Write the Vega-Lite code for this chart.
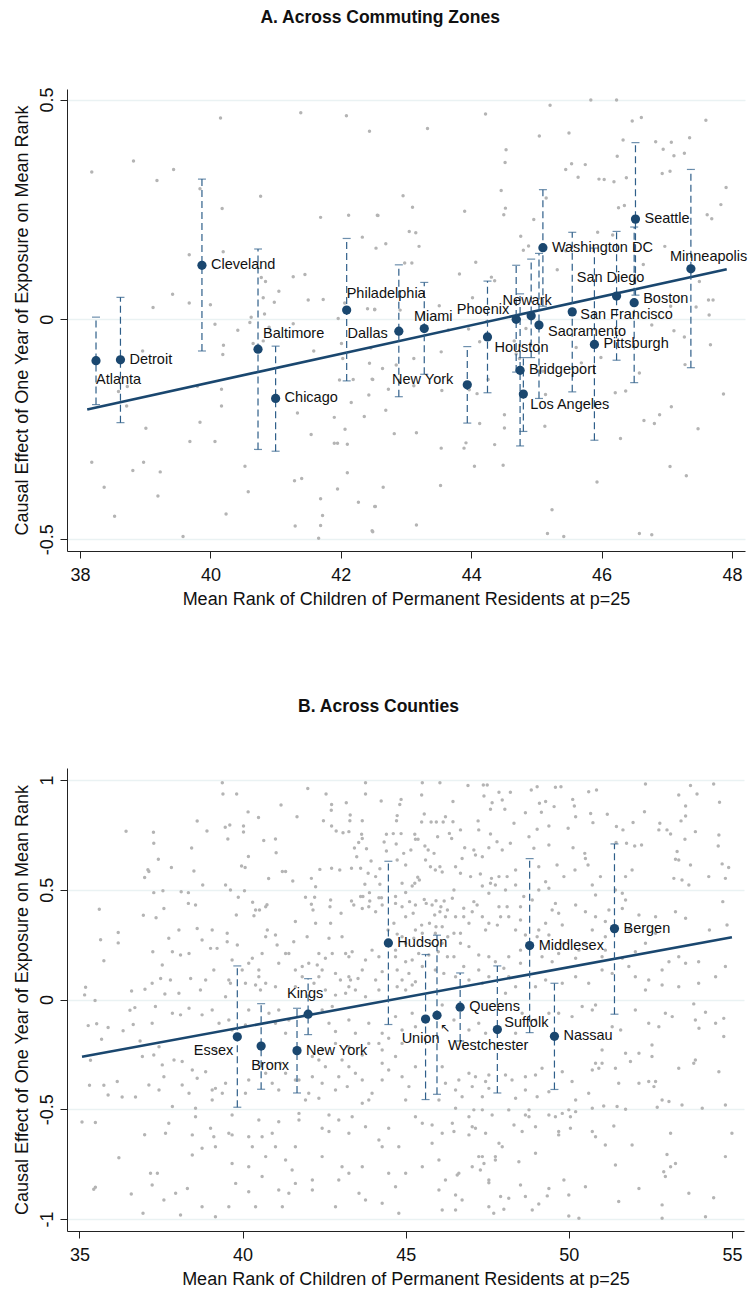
{
"$schema":"https://vega.github.io/schema/vega-lite/v6.json",
"padding":{"left":12,"top":8,"right":0,"bottom":0},
"spacing":89,
"config":{"view":{"stroke":null},"font":"Liberation Sans",
"axis":{"domainColor":"#222","tickColor":"#222","labelColor":"#111","titleColor":"#111","labelFontSize":18,"titleFontSize":18,"titleFontWeight":"normal","tickSize":7,"gridColor":"#eaf2f3","gridWidth":1.5,"labelFont":"Liberation Sans","titleFont":"Liberation Sans"},
"title":{"fontSize":17.5,"fontWeight":"bold","color":"#111","frame":"bounds","anchor":"middle","font":"Liberation Sans"}},
"datasets":{
"cz":[
{"name":"Atlanta","x":38.245,"y":-0.094,"lo":-0.194,"hi":0.005},
{"name":"Detroit","x":38.62,"y":-0.092,"lo":-0.235,"hi":0.05},
{"name":"Cleveland","x":39.87,"y":0.123,"lo":-0.072,"hi":0.319},
{"name":"Baltimore","x":40.73,"y":-0.068,"lo":-0.296,"hi":0.16},
{"name":"Chicago","x":41.0,"y":-0.18,"lo":-0.3,"hi":-0.061},
{"name":"Philadelphia","x":42.09,"y":0.021,"lo":-0.14,"hi":0.184},
{"name":"Dallas","x":42.89,"y":-0.027,"lo":-0.176,"hi":0.124},
{"name":"Miami","x":43.28,"y":-0.021,"lo":-0.125,"hi":0.084},
{"name":"New York","x":43.94,"y":-0.149,"lo":-0.236,"hi":-0.062},
{"name":"Houston","x":44.25,"y":-0.04,"lo":-0.167,"hi":0.087},
{"name":"Phoenix","x":44.69,"y":0.0,"lo":-0.12,"hi":0.123},
{"name":"Bridgeport","x":44.75,"y":-0.116,"lo":-0.288,"hi":0.058},
{"name":"Los Angeles","x":44.8,"y":-0.17,"lo":-0.255,"hi":-0.087},
{"name":"Newark","x":44.92,"y":0.008,"lo":-0.087,"hi":0.137},
{"name":"Sacramento","x":45.04,"y":-0.013,"lo":-0.18,"hi":0.15},
{"name":"Washington DC","x":45.1,"y":0.163,"lo":0.03,"hi":0.295},
{"name":"San Francisco","x":45.55,"y":0.017,"lo":-0.165,"hi":0.198},
{"name":"Pittsburgh","x":45.89,"y":-0.057,"lo":-0.275,"hi":0.162},
{"name":"San Diego","x":46.23,"y":0.053,"lo":-0.093,"hi":0.2},
{"name":"Boston","x":46.5,"y":0.038,"lo":-0.144,"hi":0.21},
{"name":"Seattle","x":46.52,"y":0.228,"lo":0.055,"hi":0.402},
{"name":"Minneapolis","x":47.37,"y":0.115,"lo":-0.11,"hi":0.341}],
"cz_line":[{"x":38.11,"y":-0.205},{"x":47.92,"y":0.114}],
"co":[
{"name":"Essex","x":39.84,"y":-0.17,"lo":-0.491,"hi":0.153},
{"name":"Bronx","x":40.57,"y":-0.212,"lo":-0.409,"hi":-0.019},
{"name":"New York","x":41.67,"y":-0.233,"lo":-0.426,"hi":-0.04},
{"name":"Kings","x":42.01,"y":-0.067,"lo":-0.16,"hi":0.095},
{"name":"Hudson","x":44.47,"y":0.258,"lo":-0.114,"hi":0.63},
{"name":"Union","x":45.61,"y":-0.089,"lo":-0.456,"hi":0.205},
{"name":"Westchester","x":45.96,"y":-0.072,"lo":-0.432,"hi":0.293},
{"name":"Queens","x":46.67,"y":-0.035,"lo":-0.189,"hi":0.121},
{"name":"Suffolk","x":47.81,"y":-0.137,"lo":-0.426,"hi":0.153},
{"name":"Middlesex","x":48.8,"y":0.246,"lo":-0.151,"hi":0.642},
{"name":"Nassau","x":49.56,"y":-0.168,"lo":-0.41,"hi":0.074},
{"name":"Bergen","x":51.4,"y":0.323,"lo":-0.067,"hi":0.709}],
"co_line":[{"x":35.08,"y":-0.261},{"x":55.0,"y":0.284}],
"cz_bg":[
{"x":40.155,"y":0.458},{"x":41.386,"y":0.47},{"x":42.086,"y":0.463},{"x":42.44,"y":0.428},{"x":38.82,"y":0.36},{"x":38.18,"y":0.335},{"x":39.435,"y":0.341},{"x":39.18,"y":0.316},{"x":39.84,"y":0.297},{"x":40.77,"y":0.28},{"x":40.18,"y":0.252},{"x":41.69,"y":0.232},{"x":42.12,"y":0.237},{"x":42.56,"y":0.237},{"x":42.33,"y":0.187},{"x":42.54,"y":0.162},{"x":39.675,"y":0.147},{"x":40.196,"y":0.154},{"x":40.78,"y":0.095},{"x":40.845,"y":0.086},{"x":41.27,"y":0.097},{"x":41.45,"y":0.102},{"x":41.05,"y":0.064},{"x":39.42,"y":0.057},{"x":39.675,"y":0.037},{"x":40.0,"y":0.033},{"x":40.81,"y":0.049},{"x":40.98,"y":0.039},{"x":41.5,"y":0.044},{"x":41.73,"y":0.045},{"x":42.06,"y":0.037},{"x":42.41,"y":0.024},{"x":42.52,"y":0.022},{"x":39.12,"y":0.027},{"x":40.625,"y":0.005},{"x":40.83,"y":0.012},{"x":40.605,"y":-0.007},{"x":40.07,"y":-0.011},{"x":40.42,"y":-0.025},{"x":41.27,"y":-0.01},{"x":41.96,"y":0.002},{"x":40.9,"y":-0.018},{"x":40.655,"y":-0.055},{"x":40.81,"y":-0.049},{"x":38.96,"y":-0.072},{"x":40.2,"y":-0.059},{"x":40.19,"y":-0.08},{"x":41.585,"y":-0.072},{"x":42.01,"y":-0.055},{"x":42.03,"y":-0.089},{"x":42.44,"y":-0.1},{"x":38.725,"y":-0.153},{"x":38.59,"y":-0.164},{"x":41.98,"y":-0.138},{"x":42.19,"y":-0.137},{"x":42.48,"y":-0.136},{"x":40.17,"y":-0.159},{"x":39.8,"y":-0.152},{"x":42.43,"y":-0.172},{"x":38.715,"y":-0.197},{"x":40.17,"y":-0.197},{"x":42.16,"y":-0.189},{"x":41.335,"y":-0.213},{"x":41.9,"y":-0.223},{"x":42.36,"y":-0.221},{"x":39.84,"y":-0.234},{"x":39.01,"y":-0.248},{"x":42.065,"y":-0.25},{"x":41.545,"y":-0.262},{"x":39.685,"y":-0.278},{"x":40.07,"y":-0.278},{"x":41.9,"y":-0.282},{"x":41.95,"y":-0.282},{"x":42.1,"y":-0.284},{"x":38.18,"y":-0.325},{"x":38.975,"y":-0.325},{"x":38.81,"y":-0.344},{"x":39.23,"y":-0.347},{"x":40.53,"y":-0.334},{"x":42.1,"y":-0.349},{"x":38.37,"y":-0.382},{"x":39.195,"y":-0.402},{"x":40.58,"y":-0.392},{"x":41.29,"y":-0.367},{"x":41.4,"y":-0.362},{"x":41.95,"y":-0.386},{"x":41.69,"y":-0.408},{"x":42.27,"y":-0.416},{"x":42.53,"y":-0.426},{"x":38.53,"y":-0.448},{"x":40.24,"y":-0.443},{"x":41.72,"y":-0.446},{"x":41.3,"y":-0.47},{"x":41.69,"y":-0.469},{"x":39.58,"y":-0.494},{"x":41.66,"y":-0.498},{"x":42.48,"y":-0.481},
{"x":45.21,"y":0.487},{"x":45.835,"y":0.499},{"x":46.23,"y":0.499},{"x":44.22,"y":0.467},{"x":43.33,"y":0.434},{"x":46.47,"y":0.451},{"x":46.61,"y":0.459},{"x":47.6,"y":0.453},{"x":45.045,"y":0.417},{"x":45.5,"y":0.424},{"x":44.535,"y":0.386},{"x":44.52,"y":0.357},{"x":45.54,"y":0.354},{"x":45.75,"y":0.352},{"x":45.45,"y":0.341},{"x":45.64,"y":0.323},{"x":45.96,"y":0.319},{"x":46.04,"y":0.318},{"x":46.19,"y":0.313},{"x":46.38,"y":0.322},{"x":46.24,"y":0.371},{"x":46.33,"y":0.408},{"x":46.83,"y":0.404},{"x":46.945,"y":0.387},{"x":47.07,"y":0.403},{"x":47.11,"y":0.372},{"x":47.27,"y":0.378},{"x":47.35,"y":0.413},{"x":46.93,"y":0.332},{"x":47.05,"y":0.337},{"x":47.91,"y":0.3},{"x":47.83,"y":0.261},{"x":47.62,"y":0.238},{"x":47.69,"y":0.229},{"x":44.46,"y":0.293},{"x":45.15,"y":0.276},{"x":42.955,"y":0.281},{"x":43.1,"y":0.255},{"x":42.57,"y":0.236},{"x":43.9,"y":0.246},{"x":44.525,"y":0.253},{"x":44.5,"y":0.238},{"x":44.96,"y":0.227},{"x":46.26,"y":0.254},{"x":46.35,"y":0.259},{"x":43.05,"y":0.2},{"x":43.15,"y":0.197},{"x":42.69,"y":0.172},{"x":43.2,"y":0.166},{"x":44.76,"y":0.189},{"x":44.8,"y":0.157},{"x":44.88,"y":0.167},{"x":45.45,"y":0.156},{"x":45.94,"y":0.198},{"x":46.17,"y":0.192},{"x":46.97,"y":0.166},{"x":46.64,"y":0.125},{"x":44.07,"y":0.13},{"x":43.82,"y":0.103},{"x":42.98,"y":0.128},{"x":43.09,"y":0.128},{"x":44.31,"y":0.096},{"x":44.36,"y":0.088},{"x":45.32,"y":0.113},{"x":47.5,"y":0.086},{"x":47.64,"y":0.044},{"x":47.71,"y":0.044},{"x":47.65,"y":0.01},{"x":47.45,"y":0.028},{"x":47.06,"y":0.03},{"x":44.02,"y":0.049},{"x":43.51,"y":0.031},{"x":42.91,"y":0.021},{"x":42.52,"y":0.023},{"x":43.65,"y":-0.024},{"x":43.96,"y":-0.022},{"x":44.24,"y":-0.005},{"x":44.84,"y":-0.021},{"x":46.77,"y":-0.013},{"x":47.11,"y":-0.026},{"x":47.27,"y":-0.04},{"x":47.67,"y":-0.058},{"x":42.46,"y":-0.065},{"x":42.64,"y":-0.112},{"x":42.85,"y":-0.104},{"x":43.12,"y":-0.089},{"x":43.54,"y":-0.074},{"x":44.13,"y":-0.051},{"x":44.66,"y":-0.049},{"x":44.69,"y":-0.079},{"x":44.74,"y":-0.089},{"x":45.1,"y":-0.118},{"x":45.61,"y":-0.064},{"x":45.69,"y":-0.099},{"x":45.99,"y":-0.087},{"x":46.58,"y":-0.122},{"x":47.28,"y":-0.103},{"x":42.49,"y":-0.137},{"x":42.73,"y":-0.159},{"x":43.12,"y":-0.151},{"x":43.55,"y":-0.162},{"x":43.97,"y":-0.16},{"x":44.09,"y":-0.169},{"x":44.26,"y":-0.137},{"x":45.14,"y":-0.171},{"x":46.21,"y":-0.167},{"x":46.37,"y":-0.163},{"x":42.69,"y":-0.207},{"x":44.51,"y":-0.217},{"x":44.13,"y":-0.237},{"x":45.13,"y":-0.243},{"x":44.51,"y":-0.247},{"x":46.29,"y":-0.271},{"x":46.65,"y":-0.23},{"x":46.81,"y":-0.237},{"x":46.89,"y":-0.217},{"x":47.48,"y":-0.249},{"x":47.87,"y":-0.17},{"x":47.07,"y":-0.199},{"x":42.82,"y":-0.26},{"x":43.16,"y":-0.258},{"x":43.92,"y":-0.281},{"x":43.89,"y":-0.293},{"x":44.36,"y":-0.285},{"x":44.49,"y":-0.332},{"x":44.05,"y":-0.334},{"x":43.54,"y":-0.293},{"x":45.93,"y":-0.37},{"x":47.05,"y":-0.335},{"x":47.3,"y":-0.356},{"x":45.24,"y":-0.433},{"x":42.65,"y":-0.382},{"x":42.52,"y":-0.426},{"x":43.53,"y":-0.378},{"x":43.16,"y":-0.468},{"x":42.49,"y":-0.483},{"x":45.17,"y":-0.487},{"x":45.42,"y":-0.494},{"x":46.58,"y":-0.487},{"x":46.77,"y":-0.49}],
"co_bg":[
{"x":36.43,"y":0.767},{"x":37.0,"y":0.556},{"x":37.1,"y":0.591},{"x":35.61,"y":0.411},{"x":36.19,"y":0.305},{"x":36.19,"y":0.258},{"x":35.65,"y":0.272},{"x":35.75,"y":0.177},{"x":36.96,"y":0.384},{"x":35.16,"y":0.021},{"x":35.19,"y":0.056},{"x":35.48,"y":-0.005},{"x":35.27,"y":-0.119},{"x":35.53,"y":-0.111},{"x":35.68,"y":-0.181},{"x":35.88,"y":-0.128},{"x":36.34,"y":-0.142},{"x":36.55,"y":-0.049},{"x":36.6,"y":0.039},{"x":36.7,"y":-0.037},{"x":36.65,"y":-0.114},{"x":36.86,"y":-0.189},{"x":37.01,"y":0.047},{"x":35.34,"y":-0.277},{"x":35.31,"y":-0.391},{"x":35.75,"y":-0.391},{"x":35.88,"y":-0.435},{"x":36.16,"y":-0.374},{"x":36.31,"y":-0.444},{"x":36.72,"y":-0.444},{"x":36.93,"y":-0.26},{"x":35.08,"y":-0.558},{"x":35.49,"y":-0.561},{"x":35.44,"y":-0.865},{"x":35.49,"y":-0.856},{"x":36.21,"y":-0.721},{"x":36.59,"y":-0.886},{"x":37.0,"y":-0.616},{"x":36.95,"y":-0.974},
{"x":39.38,"y":0.988},{"x":39.4,"y":0.937},{"x":39.82,"y":0.937},{"x":42.0,"y":0.962},{"x":42.56,"y":0.937},{"x":43.77,"y":0.988},{"x":43.77,"y":0.937},{"x":45.51,"y":0.988},{"x":45.49,"y":0.932},{"x":46.05,"y":0.988},{"x":41.18,"y":0.886},{"x":42.73,"y":0.889},{"x":43.18,"y":0.897},{"x":44.25,"y":0.905},{"x":44.86,"y":0.912},{"x":44.82,"y":0.889},{"x":40.17,"y":0.855},{"x":40.49,"y":0.829},{"x":42.72,"y":0.862},{"x":43.3,"y":0.841},{"x":43.29,"y":0.815},{"x":43.67,"y":0.815},{"x":44.74,"y":0.838},{"x":44.72,"y":0.815},{"x":45.57,"y":0.845},{"x":45.49,"y":0.809},{"x":45.78,"y":0.809},{"x":45.94,"y":0.809},{"x":46.15,"y":0.809},{"x":46.22,"y":0.833},{"x":38.61,"y":0.813},{"x":38.91,"y":0.768},{"x":39.47,"y":0.785},{"x":39.61,"y":0.795},{"x":40.03,"y":0.791},{"x":40.03,"y":0.763},{"x":37.27,"y":0.762},{"x":39.55,"y":0.731},{"x":42.48,"y":0.815},{"x":42.73,"y":0.791},{"x":42.87,"y":0.768},{"x":43.08,"y":0.76},{"x":43.26,"y":0.765},{"x":43.65,"y":0.753},{"x":43.67,"y":0.734},{"x":44.41,"y":0.753},{"x":44.62,"y":0.756},{"x":44.86,"y":0.756},{"x":45.28,"y":0.753},{"x":45.3,"y":0.73},{"x":45.38,"y":0.73},{"x":45.98,"y":0.742},{"x":40.65,"y":0.725},{"x":41.01,"y":0.731},{"x":41.03,"y":0.669},{"x":38.44,"y":0.69},{"x":37.28,"y":0.712},{"x":37.42,"y":0.639},{"x":37.82,"y":0.602},{"x":38.51,"y":0.586},{"x":39.97,"y":0.608},{"x":40.08,"y":0.602},{"x":40.18,"y":0.652},{"x":41.22,"y":0.583},{"x":41.32,"y":0.583},{"x":41.54,"y":0.54},{"x":40.8,"y":0.551},{"x":41.67,"y":0.833},{"x":42.11,"y":0.552},{"x":42.37,"y":0.593},{"x":42.73,"y":0.598},{"x":42.98,"y":0.59},{"x":43.34,"y":0.598},{"x":43.62,"y":0.598},{"x":43.43,"y":0.69},{"x":43.56,"y":0.715},{"x":43.8,"y":0.687},{"x":43.5,"y":0.651},{"x":43.94,"y":0.631},{"x":44.34,"y":0.718},{"x":44.41,"y":0.677},{"x":44.71,"y":0.709},{"x":44.94,"y":0.666},{"x":45.16,"y":0.681},{"x":44.74,"y":0.636},{"x":45.0,"y":0.613},{"x":45.59,"y":0.7},{"x":45.69,"y":0.681},{"x":45.87,"y":0.666},{"x":45.61,"y":0.636},{"x":45.76,"y":0.605},{"x":46.05,"y":0.605},{"x":46.12,"y":0.581},{"x":45.91,"y":0.59},{"x":45.37,"y":0.557},{"x":45.42,"y":0.545},{"x":45.2,"y":0.517},{"x":45.28,"y":0.53},{"x":44.89,"y":0.53},{"x":44.21,"y":0.596},{"x":44.08,"y":0.56},{"x":44.21,"y":0.525},{"x":43.85,"y":0.575},{"x":43.75,"y":0.525},{"x":38.78,"y":0.522},{"x":39.48,"y":0.522},{"x":37.13,"y":0.583},{"x":37.28,"y":0.487},{"x":37.56,"y":0.496},{"x":38.12,"y":0.491},{"x":38.34,"y":0.487},{"x":38.34,"y":0.438},{"x":38.56,"y":0.431},{"x":37.59,"y":0.415},{"x":37.35,"y":0.373},{"x":39.63,"y":0.499},{"x":39.87,"y":0.466},{"x":40.06,"y":0.496},{"x":39.81,"y":0.385},{"x":40.31,"y":0.443},{"x":40.4,"y":0.408},{"x":40.52,"y":0.408},{"x":40.71,"y":0.423},{"x":40.75,"y":0.432},{"x":40.35,"y":0.382},{"x":41.93,"y":0.466},{"x":42.21,"y":0.466},{"x":42.11,"y":0.434},{"x":42.24,"y":0.514},{"x":42.16,"y":0.408},{"x":42.7,"y":0.453},{"x":42.68,"y":0.423},{"x":43.02,"y":0.393},{"x":43.34,"y":0.449},{"x":43.41,"y":0.431},{"x":43.62,"y":0.469},{"x":43.69,"y":0.469},{"x":43.89,"y":0.487},{"x":43.9,"y":0.449},{"x":43.87,"y":0.423},{"x":43.67,"y":0.415},{"x":44.18,"y":0.464},{"x":44.26,"y":0.464},{"x":44.28,"y":0.431},{"x":44.08,"y":0.4},{"x":44.69,"y":0.469},{"x":44.69,"y":0.438},{"x":45.0,"y":0.488},{"x":44.89,"y":0.423},{"x":45.12,"y":0.446},{"x":45.3,"y":0.431},{"x":45.23,"y":0.393},{"x":45.57,"y":0.456},{"x":45.63,"y":0.438},{"x":45.81,"y":0.431},{"x":45.93,"y":0.45},{"x":46.08,"y":0.423},{"x":46.18,"y":0.449},{"x":46.28,"y":0.408},{"x":46.05,"y":0.4},{"x":45.89,"y":0.385},{"x":45.73,"y":0.347},{"x":45.93,"y":0.332},{"x":46.12,"y":0.332},{"x":46.22,"y":0.377},{"x":45.49,"y":0.339},{"x":45.3,"y":0.317},{"x":45.0,"y":0.377},{"x":44.64,"y":0.347},{"x":44.46,"y":0.317},{"x":44.74,"y":0.298},{"x":44.89,"y":0.286},{"x":45.0,"y":0.256},{"x":45.25,"y":0.279},{"x":45.51,"y":0.302},{"x":45.91,"y":0.302},{"x":45.76,"y":0.256},{"x":46.12,"y":0.256},{"x":46.29,"y":0.286},{"x":46.0,"y":0.218},{"x":45.71,"y":0.203},{"x":46.28,"y":0.195},{"x":45.4,"y":0.21},{"x":45.2,"y":0.18},{"x":45.0,"y":0.172},{"x":45.51,"y":0.15},{"x":45.91,"y":0.134},{"x":46.17,"y":0.119},{"x":45.1,"y":0.119},{"x":44.89,"y":0.089},{"x":44.74,"y":0.134},{"x":45.3,"y":0.081},{"x":44.28,"y":0.127},{"x":44.18,"y":0.195},{"x":43.97,"y":0.225},{"x":43.77,"y":0.18},{"x":44.08,"y":0.089},{"x":43.67,"y":0.134},{"x":43.54,"y":0.096},{"x":43.31,"y":0.089},{"x":43.26,"y":0.195},{"x":43.36,"y":0.218},{"x":43.16,"y":0.21},{"x":43.05,"y":0.286},{"x":42.75,"y":0.21},{"x":42.65,"y":0.279},{"x":42.7,"y":0.347},{"x":42.54,"y":0.188},{"x":42.34,"y":0.21},{"x":42.29,"y":0.157},{"x":42.44,"y":0.134},{"x":42.85,"y":0.119},{"x":43.0,"y":0.089},{"x":43.26,"y":0.058},{"x":43.16,"y":0.028},{"x":43.46,"y":0.043},{"x":43.77,"y":0.013},{"x":44.18,"y":0.043},{"x":42.03,"y":0.165},{"x":41.83,"y":0.15},{"x":41.62,"y":0.134},{"x":41.98,"y":0.286},{"x":42.24,"y":0.347},{"x":41.62,"y":0.355},{"x":41.57,"y":0.263},{"x":41.32,"y":0.21},{"x":41.42,"y":0.21},{"x":41.11,"y":0.165},{"x":41.01,"y":0.294},{"x":41.06,"y":0.248},{"x":40.76,"y":0.317},{"x":40.71,"y":0.286},{"x":40.6,"y":0.21},{"x":40.3,"y":0.188},{"x":40.19,"y":0.165},{"x":40.5,"y":0.134},{"x":40.5,"y":0.104},{"x":40.09,"y":0.074},{"x":40.4,"y":0.066},{"x":40.55,"y":0.043},{"x":39.68,"y":0.18},{"x":39.84,"y":0.248},{"x":39.53,"y":0.302},{"x":39.53,"y":0.263},{"x":39.22,"y":0.233},{"x":39.02,"y":0.233},{"x":39.07,"y":0.317},{"x":38.76,"y":0.271},{"x":38.61,"y":0.324},{"x":38.36,"y":0.21},{"x":38.1,"y":0.203},{"x":37.85,"y":0.218},{"x":38.05,"y":0.317},{"x":37.74,"y":0.279},{"x":37.54,"y":0.157},{"x":37.49,"y":0.096},{"x":37.79,"y":0.089},{"x":37.25,"y":0.218},{"x":37.23,"y":0.074},{"x":37.62,"y":0.025},{"x":38.05,"y":0.028},{"x":38.41,"y":0.096},{"x":38.87,"y":0.089},{"x":39.12,"y":0.134},{"x":38.71,"y":0.043},{"x":39.58,"y":0.089},{"x":39.63,"y":0.074},{"x":39.48,"y":0.013},{"x":39.99,"y":0.134},{"x":40.71,"y":0.074},{"x":41.01,"y":0.058},{"x":41.62,"y":0.058},{"x":41.83,"y":0.104},{"x":42.19,"y":0.074},{"x":42.34,"y":0.104},{"x":42.54,"y":0.043},{"x":42.85,"y":0.02},{"x":43.26,"y":0.104},{"x":44.74,"y":0.058},{"x":45.0,"y":0.043},{"x":45.2,"y":0.066},{"x":44.69,"y":0.225},{"x":44.69,"y":0.195},
{"x":46.91,"y":0.975},{"x":47.38,"y":0.978},{"x":47.5,"y":0.978},{"x":47.86,"y":0.944},{"x":48.21,"y":0.944},{"x":48.85,"y":0.955},{"x":49.03,"y":0.97},{"x":49.59,"y":0.967},{"x":49.76,"y":0.97},{"x":50.61,"y":0.947},{"x":50.85,"y":0.955},{"x":52.35,"y":0.982},{"x":53.73,"y":0.975},{"x":54.44,"y":0.982},{"x":47.4,"y":0.927},{"x":47.65,"y":0.897},{"x":47.96,"y":0.909},{"x":46.45,"y":0.902},{"x":47.6,"y":0.867},{"x":48.04,"y":0.867},{"x":48.67,"y":0.851},{"x":49.1,"y":0.894},{"x":49.29,"y":0.902},{"x":49.16,"y":0.853},{"x":49.55,"y":0.879},{"x":50.12,"y":0.912},{"x":50.17,"y":0.882},{"x":50.21,"y":0.833},{"x":50.67,"y":0.848},{"x":51.18,"y":0.844},{"x":52.32,"y":0.856},{"x":53.37,"y":0.932},{"x":53.93,"y":0.937},{"x":54.62,"y":0.899},{"x":53.58,"y":0.882},{"x":46.45,"y":0.81},{"x":46.68,"y":0.773},{"x":47.22,"y":0.814},{"x":47.24,"y":0.773},{"x":48.32,"y":0.803},{"x":49.03,"y":0.776},{"x":49.39,"y":0.791},{"x":49.98,"y":0.78},{"x":50.74,"y":0.806},{"x":51.46,"y":0.788},{"x":51.66,"y":0.773},{"x":51.97,"y":0.807},{"x":51.45,"y":0.715},{"x":51.77,"y":0.712},{"x":52.02,"y":0.7},{"x":52.23,"y":0.704},{"x":52.79,"y":0.803},{"x":52.76,"y":0.773},{"x":53.01,"y":0.773},{"x":53.44,"y":0.814},{"x":53.58,"y":0.836},{"x":53.12,"y":0.754},{"x":53.56,"y":0.73},{"x":53.88,"y":0.765},{"x":54.6,"y":0.75},{"x":54.58,"y":0.7},{"x":46.34,"y":0.757},{"x":46.41,"y":0.734},{"x":46.81,"y":0.692},{"x":46.73,"y":0.643},{"x":47.09,"y":0.681},{"x":47.14,"y":0.659},{"x":47.35,"y":0.651},{"x":47.55,"y":0.692},{"x":47.6,"y":0.754},{"x":47.8,"y":0.719},{"x":47.96,"y":0.681},{"x":48.21,"y":0.712},{"x":48.37,"y":0.59},{"x":48.78,"y":0.742},{"x":48.93,"y":0.689},{"x":49.08,"y":0.605},{"x":49.39,"y":0.704},{"x":49.64,"y":0.613},{"x":49.85,"y":0.56},{"x":50.13,"y":0.692},{"x":50.19,"y":0.59},{"x":50.49,"y":0.666},{"x":50.59,"y":0.613},{"x":50.51,"y":0.643},{"x":50.97,"y":0.56},{"x":50.72,"y":0.522},{"x":46.53,"y":0.605},{"x":46.68,"y":0.575},{"x":46.99,"y":0.56},{"x":47.29,"y":0.572},{"x":47.63,"y":0.552},{"x":47.86,"y":0.56},{"x":48.11,"y":0.56},{"x":48.37,"y":0.522},{"x":47.35,"y":0.517},{"x":47.6,"y":0.53},{"x":47.75,"y":0.522},{"x":47.55,"y":0.484},{"x":48.06,"y":0.499},{"x":46.48,"y":0.499},{"x":46.43,"y":0.461},{"x":46.78,"y":0.416},{"x":47.09,"y":0.446},{"x":47.04,"y":0.4},{"x":46.78,"y":0.377},{"x":46.94,"y":0.347},{"x":46.53,"y":0.377},{"x":46.48,"y":0.302},{"x":46.68,"y":0.302},{"x":47.19,"y":0.431},{"x":47.35,"y":0.377},{"x":47.55,"y":0.347},{"x":47.45,"y":0.317},{"x":47.86,"y":0.423},{"x":47.91,"y":0.377},{"x":47.81,"y":0.339},{"x":48.11,"y":0.423},{"x":48.16,"y":0.377},{"x":48.37,"y":0.317},{"x":48.52,"y":0.423},{"x":48.62,"y":0.469},{"x":48.52,"y":0.362},{"x":48.88,"y":0.453},{"x":49.08,"y":0.499},{"x":49.29,"y":0.537},{"x":49.39,"y":0.507},{"x":49.59,"y":0.438},{"x":49.49,"y":0.408},{"x":49.69,"y":0.393},{"x":49.29,"y":0.347},{"x":49.08,"y":0.317},{"x":49.39,"y":0.294},{"x":49.8,"y":0.34},{"x":50.21,"y":0.431},{"x":50.51,"y":0.4},{"x":50.82,"y":0.476},{"x":50.82,"y":0.377},{"x":51.12,"y":0.355},{"x":51.64,"y":0.484},{"x":51.74,"y":0.453},{"x":51.64,"y":0.415},{"x":52.15,"y":0.385},{"x":50.72,"y":0.317},{"x":51.12,"y":0.286},{"x":50.51,"y":0.256},{"x":50.31,"y":0.225},{"x":50.21,"y":0.188},{"x":49.85,"y":0.256},{"x":49.69,"y":0.21},{"x":49.49,"y":0.172},{"x":49.18,"y":0.195},{"x":49.03,"y":0.286},{"x":48.67,"y":0.294},{"x":48.52,"y":0.225},{"x":48.52,"y":0.165},{"x":48.16,"y":0.195},{"x":48.01,"y":0.142},{"x":47.75,"y":0.172},{"x":47.55,"y":0.195},{"x":47.24,"y":0.203},{"x":46.94,"y":0.241},{"x":46.68,"y":0.256},{"x":46.48,"y":0.195},{"x":46.78,"y":0.15},{"x":47.24,"y":0.134},{"x":47.55,"y":0.104},{"x":47.35,"y":0.074},{"x":46.94,"y":0.089},{"x":46.53,"y":0.104},{"x":48.16,"y":0.104},{"x":48.37,"y":0.058},{"x":48.06,"y":0.028},{"x":48.98,"y":0.058},{"x":49.29,"y":0.089},{"x":49.8,"y":0.074},{"x":50.21,"y":0.104},{"x":50.61,"y":0.074},{"x":51.02,"y":0.134},{"x":51.33,"y":0.119},{"x":51.84,"y":0.15},{"x":52.04,"y":0.104},{"x":52.45,"y":0.089},{"x":52.86,"y":0.066},{"x":53.07,"y":0.172},{"x":53.37,"y":0.195},{"x":53.58,"y":0.165},{"x":53.98,"y":0.172},{"x":53.37,"y":0.058},{"x":53.98,"y":0.074},{"x":54.5,"y":0.104},{"x":54.8,"y":0.15},{"x":54.31,"y":0.317},{"x":54.85,"y":0.34},{"x":54.72,"y":0.446},{"x":52.66,"y":0.377},{"x":53.27,"y":0.4},{"x":53.58,"y":0.37},{"x":53.47,"y":0.545},{"x":53.22,"y":0.552},{"x":53.68,"y":0.522},{"x":54.29,"y":0.56},{"x":54.8,"y":0.552},{"x":54.7,"y":0.618},{"x":54.9,"y":0.602},{"x":53.27,"y":0.639},{"x":53.37,"y":0.636},{"x":53.73,"y":0.613},{"x":53.32,"y":0.674},{"x":51.94,"y":0.59},{"x":51.74,"y":0.56},{"x":51.43,"y":0.499},{"x":51.23,"y":0.408},{"x":51.84,"y":0.317},{"x":52.35,"y":0.256},{"x":52.66,"y":0.302},{"x":51.12,"y":0.225},{"x":51.02,"y":0.195},{"x":51.64,"y":0.188},{"x":52.04,"y":0.218},{"x":52.86,"y":0.134},{"x":52.35,"y":0.043},
{"x":37.33,"y":-0.032},{"x":37.85,"y":-0.063},{"x":38.1,"y":-0.07},{"x":38.36,"y":-0.04},{"x":38.76,"y":-0.07},{"x":39.07,"y":-0.048},{"x":39.28,"y":-0.108},{"x":39.58,"y":-0.093},{"x":40.19,"y":-0.048},{"x":40.09,"y":-0.116},{"x":40.81,"y":-0.063},{"x":41.11,"y":-0.048},{"x":41.01,"y":-0.108},{"x":41.32,"y":-0.154},{"x":41.42,"y":-0.093},{"x":42.44,"y":-0.048},{"x":42.75,"y":-0.032},{"x":42.65,"y":-0.108},{"x":42.85,"y":-0.146},{"x":43.26,"y":-0.093},{"x":43.46,"y":-0.154},{"x":43.87,"y":-0.108},{"x":44.28,"y":-0.154},{"x":44.18,"y":-0.2},{"x":44.69,"y":-0.078},{"x":44.89,"y":-0.139},{"x":45.2,"y":-0.063},{"x":45.3,"y":-0.124},{"x":46.12,"y":-0.025},{"x":37.23,"y":-0.108},{"x":37.28,"y":-0.253},{"x":37.44,"y":-0.215},{"x":37.9,"y":-0.276},{"x":38.15,"y":-0.283},{"x":37.54,"y":-0.298},{"x":37.59,"y":-0.352},{"x":37.44,"y":-0.412},{"x":37.13,"y":-0.39},{"x":38.15,"y":-0.39},{"x":38.46,"y":-0.321},{"x":38.87,"y":-0.329},{"x":39.17,"y":-0.405},{"x":39.48,"y":-0.382},{"x":38.61,"y":-0.359},{"x":39.07,"y":-0.458},{"x":39.38,"y":-0.427},{"x":38.36,"y":-0.427},{"x":37.85,"y":-0.488},{"x":40.19,"y":-0.367},{"x":40.09,"y":-0.427},{"x":40.91,"y":-0.382},{"x":41.11,"y":-0.412},{"x":40.71,"y":-0.336},{"x":41.16,"y":-0.291},{"x":41.32,"y":-0.336},{"x":41.73,"y":-0.367},{"x":42.14,"y":-0.352},{"x":42.03,"y":-0.427},{"x":42.44,"y":-0.382},{"x":42.34,"y":-0.45},{"x":41.93,"y":-0.458},{"x":42.85,"y":-0.412},{"x":42.95,"y":-0.352},{"x":43.21,"y":-0.397},{"x":43.26,"y":-0.306},{"x":43.05,"y":-0.276},{"x":43.46,"y":-0.336},{"x":43.67,"y":-0.367},{"x":43.97,"y":-0.427},{"x":43.87,"y":-0.458},{"x":43.67,"y":-0.473},{"x":44.28,"y":-0.367},{"x":44.48,"y":-0.321},{"x":44.28,"y":-0.291},{"x":44.69,"y":-0.26},{"x":44.89,"y":-0.352},{"x":45.1,"y":-0.397},{"x":45.0,"y":-0.458},{"x":45.3,"y":-0.306},{"x":46.12,"y":-0.306},{"x":46.22,"y":-0.382},{"x":46.02,"y":-0.458},{"x":42.34,"y":-0.276},{"x":42.54,"y":-0.306},{"x":42.14,"y":-0.26},{"x":42.44,"y":-0.23},{"x":42.85,"y":-0.2},{"x":43.26,"y":-0.215},{"x":43.67,"y":-0.253},{"x":43.87,"y":-0.2},{"x":44.28,"y":-0.23},{"x":44.48,"y":-0.177},{"x":44.89,"y":-0.2},{"x":41.62,"y":-0.367},{"x":39.68,"y":-0.139},{"x":39.17,"y":-0.23},{"x":39.07,"y":-0.412},{"x":38.56,"y":-0.496},{"x":38.56,"y":-0.534},{"x":37.74,"y":-0.564},{"x":37.64,"y":-0.61},{"x":38.46,"y":-0.617},{"x":39.02,"y":-0.587},{"x":39.12,"y":-0.625},{"x":39.58,"y":-0.61},{"x":39.68,"y":-0.617},{"x":39.17,"y":-0.671},{"x":38.46,"y":-0.709},{"x":38.76,"y":-0.678},{"x":39.68,"y":-0.747},{"x":40.19,"y":-0.625},{"x":40.6,"y":-0.625},{"x":40.3,"y":-0.671},{"x":40.91,"y":-0.61},{"x":41.01,"y":-0.671},{"x":40.71,"y":-0.716},{"x":41.32,"y":-0.731},{"x":41.62,"y":-0.671},{"x":41.73,"y":-0.549},{"x":41.73,"y":-0.519},{"x":41.11,"y":-0.557},{"x":40.5,"y":-0.549},{"x":39.68,"y":-0.526},{"x":42.44,"y":-0.587},{"x":42.65,"y":-0.602},{"x":43.26,"y":-0.61},{"x":42.95,"y":-0.549},{"x":42.65,"y":-0.526},{"x":43.36,"y":-0.534},{"x":43.77,"y":-0.58},{"x":44.18,"y":-0.64},{"x":44.28,"y":-0.671},{"x":44.48,"y":-0.587},{"x":44.79,"y":-0.671},{"x":45.3,"y":-0.534},{"x":45.51,"y":-0.564},{"x":45.81,"y":-0.572},{"x":45.81,"y":-0.655},{"x":46.12,"y":-0.61},{"x":46.02,"y":-0.731},{"x":46.22,"y":-0.823},{"x":46.02,"y":-0.868},{"x":46.12,"y":-0.959},{"x":45.51,"y":-0.762},{"x":45.0,"y":-0.792},{"x":44.48,"y":-0.792},{"x":44.69,"y":-0.853},{"x":44.28,"y":-0.929},{"x":44.79,"y":-0.974},{"x":43.67,"y":-0.762},{"x":43.57,"y":-0.883},{"x":43.77,"y":-0.914},{"x":43.26,"y":-0.792},{"x":43.05,"y":-0.762},{"x":42.95,"y":-0.823},{"x":42.85,"y":-0.944},{"x":42.44,"y":-0.716},{"x":42.14,"y":-0.823},{"x":42.14,"y":-0.868},{"x":41.62,"y":-0.838},{"x":41.52,"y":-0.777},{"x":41.42,"y":-0.883},{"x":41.22,"y":-0.944},{"x":41.11,"y":-0.868},{"x":40.4,"y":-0.944},{"x":40.19,"y":-0.876},{"x":39.79,"y":-0.838},{"x":39.58,"y":-0.944},{"x":39.17,"y":-0.99},{"x":38.76,"y":-0.944},{"x":38.31,"y":-0.861},{"x":37.95,"y":-0.883},{"x":37.59,"y":-0.914},{"x":37.23,"y":-0.845},{"x":37.18,"y":-0.792},{"x":37.39,"y":-0.792},{"x":38.1,"y":-0.982},{"x":40.6,"y":-0.807},{"x":40.19,"y":-0.762},
{"x":46.48,"y":-0.093},{"x":46.94,"y":-0.139},{"x":47.24,"y":-0.108},{"x":47.45,"y":-0.154},{"x":48.37,"y":-0.154},{"x":48.57,"y":-0.063},{"x":48.98,"y":-0.093},{"x":49.39,"y":-0.063},{"x":49.69,"y":-0.063},{"x":50.1,"y":-0.078},{"x":50.41,"y":-0.032},{"x":50.72,"y":-0.048},{"x":50.82,"y":-0.025},{"x":51.33,"y":-0.124},{"x":51.59,"y":-0.139},{"x":52.04,"y":-0.048},{"x":52.45,"y":-0.108},{"x":52.76,"y":-0.124},{"x":52.96,"y":-0.063},{"x":53.17,"y":-0.078},{"x":53.83,"y":-0.02},{"x":54.19,"y":-0.058},{"x":53.88,"y":-0.093},{"x":54.5,"y":-0.108},{"x":54.75,"y":-0.086},{"x":53.99,"y":-0.131},{"x":54.75,"y":-0.169},{"x":52.55,"y":-0.207},{"x":52.55,"y":-0.26},{"x":52.15,"y":-0.245},{"x":51.74,"y":-0.245},{"x":51.89,"y":-0.283},{"x":51.43,"y":-0.313},{"x":51.02,"y":-0.23},{"x":50.82,"y":-0.291},{"x":50.72,"y":-0.321},{"x":50.92,"y":-0.313},{"x":53.88,"y":-0.276},{"x":53.83,"y":-0.291},{"x":53.37,"y":-0.313},{"x":54.6,"y":-0.329},{"x":52.45,"y":-0.374},{"x":52.66,"y":-0.374},{"x":52.61,"y":-0.397},{"x":52.15,"y":-0.382},{"x":51.53,"y":-0.382},{"x":50.1,"y":-0.374},{"x":49.8,"y":-0.329},{"x":49.18,"y":-0.313},{"x":48.98,"y":-0.344},{"x":48.67,"y":-0.352},{"x":48.26,"y":-0.367},{"x":48.06,"y":-0.344},{"x":47.55,"y":-0.344},{"x":47.45,"y":-0.374},{"x":47.14,"y":-0.352},{"x":46.94,"y":-0.336},{"x":46.63,"y":-0.367},{"x":46.53,"y":-0.412},{"x":46.73,"y":-0.443},{"x":47.04,"y":-0.397},{"x":47.35,"y":-0.443},{"x":47.55,"y":-0.405},{"x":48.37,"y":-0.45},{"x":48.67,"y":-0.412},{"x":49.03,"y":-0.443},{"x":49.39,"y":-0.42},{"x":50.21,"y":-0.458},{"x":50.61,"y":-0.427},{"x":51.02,"y":-0.291},{"x":52.86,"y":-0.458},{"x":53.07,"y":-0.465},{"x":53.47,"y":-0.481},{"x":54.09,"y":-0.496},{"x":54.8,"y":-0.481},{"x":50.72,"y":-0.496},{"x":51.07,"y":-0.485},{"x":51.48,"y":-0.488},{"x":51.74,"y":-0.5},{"x":52.71,"y":-0.491},{"x":50.0,"y":-0.503},{"x":49.8,"y":-0.519},{"x":50.05,"y":-0.534},{"x":50.21,"y":-0.511},{"x":49.59,"y":-0.534},{"x":49.39,"y":-0.526},{"x":48.78,"y":-0.503},{"x":48.67,"y":-0.526},{"x":48.78,"y":-0.534},{"x":48.16,"y":-0.503},{"x":47.65,"y":-0.526},{"x":47.35,"y":-0.503},{"x":47.09,"y":-0.503},{"x":46.94,"y":-0.534},{"x":46.53,"y":-0.496},{"x":46.43,"y":-0.564},{"x":47.04,"y":-0.58},{"x":47.14,"y":-0.587},{"x":47.45,"y":-0.61},{"x":46.94,"y":-0.617},{"x":46.48,"y":-0.602},{"x":48.32,"y":-0.572},{"x":48.57,"y":-0.602},{"x":48.98,"y":-0.58},{"x":49.69,"y":-0.602},{"x":49.69,"y":-0.617},{"x":50.05,"y":-0.587},{"x":50.72,"y":-0.602},{"x":50.82,"y":-0.625},{"x":51.12,"y":-0.663},{"x":51.38,"y":-0.576},{"x":51.94,"y":-0.663},{"x":53.12,"y":-0.61},{"x":55.0,"y":-0.61},{"x":54.8,"y":-0.716},{"x":53.01,"y":-0.706},{"x":53.27,"y":-0.747},{"x":53.12,"y":-0.762},{"x":52.91,"y":-0.785},{"x":52.96,"y":-0.807},{"x":51.43,"y":-0.754},{"x":48.98,"y":-0.701},{"x":48.47,"y":-0.739},{"x":47.96,"y":-0.671},{"x":47.86,"y":-0.655},{"x":47.75,"y":-0.716},{"x":47.75,"y":-0.731},{"x":47.24,"y":-0.716},{"x":47.35,"y":-0.716},{"x":47.4,"y":-0.747},{"x":47.04,"y":-0.762},{"x":47.29,"y":-0.777},{"x":46.63,"y":-0.792},{"x":46.58,"y":-0.8},{"x":47.55,"y":-0.823},{"x":47.55,"y":-0.835},{"x":48.52,"y":-0.845},{"x":49.85,"y":-0.823},{"x":49.39,"y":-0.861},{"x":50.51,"y":-0.853},{"x":50.0,"y":-0.891},{"x":49.08,"y":-0.932},{"x":48.67,"y":-0.898},{"x":48.16,"y":-0.906},{"x":47.91,"y":-0.898},{"x":47.55,"y":-0.944},{"x":46.53,"y":-0.891},{"x":46.73,"y":-0.914},{"x":46.53,"y":-0.959},{"x":47.7,"y":-0.974},{"x":48.01,"y":-0.956},{"x":48.88,"y":-0.959},{"x":49.34,"y":-0.895},{"x":50.0,"y":-0.987},{"x":50.31,"y":-0.997},{"x":51.53,"y":-0.921},{"x":52.15,"y":-0.861},{"x":52.86,"y":-0.936},{"x":52.86,"y":-0.997},{"x":54.19,"y":-0.99},{"x":54.44,"y":-0.903},{"x":53.68,"y":-0.883}]
},
"vconcat":[
{"width":678,"height":462,
"title":{"text":"A. Across Commuting Zones","offset":61},
"encoding":{
"x":{"field":"x","type":"quantitative","scale":{"domain":[37.8,48.2],"nice":false,"zero":false},"axis":{"values":[38,40,42,44,46,48],"grid":false,"labelPadding":8,"titlePadding":6},"title":"Mean Rank of Children of Permanent Residents at p=25"},
"y":{"field":"y","type":"quantitative","scale":{"domain":[-0.527,0.524],"nice":false,"zero":false},"axis":{"values":[-0.5,0,0.5],"grid":true,"format":"~g","labelExpr":"replace(datum.label, '−', '-')","labelAngle":270,"labelAlign":"center","labelBaseline":"bottom","labelPadding":4,"titlePadding":7},"title":"Causal Effect of One Year of Exposure on Mean Rank"}},
"layer":[
{"data":{"name":"cz_bg"},"mark":{"type":"circle","size":12,"color":"#b4b4b4","opacity":1}},
{"data":{"name":"cz_line"},"mark":{"type":"line","color":"#1a476f","strokeWidth":2.6},"encoding":{}},
{"data":{"name":"cz"},"mark":{"type":"errorbar","color":"#2f5f8a","thickness":1.2,"ticks":{"size":8},"rule":{"strokeDash":[7,4]}},"encoding":{"y":{"field":"lo","type":"quantitative","title":"Causal Effect of One Year of Exposure on Mean Rank"},"y2":{"field":"hi"}}},
{"data":{"name":"cz"},"mark":{"type":"circle","size":85,"color":"#1a476f","opacity":1}},
{"data":{"name":"cz"},"transform":[{"filter":{"field":"name","oneOf":["Detroit","Cleveland","Chicago","Washington DC","Pittsburgh","Seattle","Bridgeport"]}}],"mark":{"type":"text","align":"left","baseline":"middle","dx":9,"fontSize":14.5,"color":"#111"},"encoding":{"text":{"field":"name"}}},
{"data":{"name":"cz"},"transform":[{"filter":{"field":"name","oneOf":["Boston"]}}],"mark":{"type":"text","align":"left","baseline":"middle","dx":9,"dy":-4,"fontSize":14.5,"color":"#111"},"encoding":{"text":{"field":"name"}}},
{"data":{"name":"cz"},"transform":[{"filter":{"field":"name","oneOf":["San Francisco"]}}],"mark":{"type":"text","align":"left","baseline":"middle","dx":8,"dy":3.5,"fontSize":14.5,"color":"#111"},"encoding":{"text":{"field":"name"}}},
{"data":{"name":"cz"},"transform":[{"filter":{"field":"name","oneOf":["Houston","Los Angeles"]}}],"mark":{"type":"text","align":"left","baseline":"middle","dx":7,"dy":11,"fontSize":14.5,"color":"#111"},"encoding":{"text":{"field":"name"}}},
{"data":{"name":"cz"},"transform":[{"filter":{"field":"name","oneOf":["Sacramento"]}}],"mark":{"type":"text","align":"left","baseline":"middle","dx":9,"dy":6.5,"fontSize":14.5,"color":"#111"},"encoding":{"text":{"field":"name"}}},
{"data":{"name":"cz"},"transform":[{"filter":{"field":"name","oneOf":["Atlanta"]}}],"mark":{"type":"text","align":"left","baseline":"middle","dx":0,"dy":19,"fontSize":14.5,"color":"#111"},"encoding":{"text":{"field":"name"}}},
{"data":{"name":"cz"},"transform":[{"filter":{"field":"name","oneOf":["Baltimore"]}}],"mark":{"type":"text","align":"left","baseline":"middle","dx":5,"dy":-15,"fontSize":14.5,"color":"#111"},"encoding":{"text":{"field":"name"}}},
{"data":{"name":"cz"},"transform":[{"filter":{"field":"name","oneOf":["Philadelphia"]}}],"mark":{"type":"text","align":"left","baseline":"middle","dx":0,"dy":-16,"fontSize":14.5,"color":"#111"},"encoding":{"text":{"field":"name"}}},
{"data":{"name":"cz"},"transform":[{"filter":{"field":"name","oneOf":["Dallas"]}}],"mark":{"type":"text","align":"right","baseline":"middle","dx":-11,"dy":3,"fontSize":14.5,"color":"#111"},"encoding":{"text":{"field":"name"}}},
{"data":{"name":"cz"},"transform":[{"filter":{"field":"name","oneOf":["Miami"]}}],"mark":{"type":"text","align":"center","baseline":"middle","dx":9,"dy":-12,"fontSize":14.5,"color":"#111"},"encoding":{"text":{"field":"name"}}},
{"data":{"name":"cz"},"transform":[{"filter":{"field":"name","oneOf":["Phoenix"]}}],"mark":{"type":"text","align":"right","baseline":"middle","dx":-7,"dy":-9,"fontSize":14.5,"color":"#111"},"encoding":{"text":{"field":"name"}}},
{"data":{"name":"cz"},"transform":[{"filter":{"field":"name","oneOf":["Newark"]}}],"mark":{"type":"text","align":"center","baseline":"middle","dx":-4,"dy":-15,"fontSize":14.5,"color":"#111"},"encoding":{"text":{"field":"name"}}},
{"data":{"name":"cz"},"transform":[{"filter":{"field":"name","oneOf":["San Diego"]}}],"mark":{"type":"text","align":"center","baseline":"middle","dx":-6,"dy":-18,"fontSize":14.5,"color":"#111"},"encoding":{"text":{"field":"name"}}},
{"data":{"name":"cz"},"transform":[{"filter":{"field":"name","oneOf":["Minneapolis"]}}],"mark":{"type":"text","align":"left","baseline":"middle","dx":-21,"dy":-12,"fontSize":14.5,"color":"#111"},"encoding":{"text":{"field":"name"}}},
{"data":{"name":"cz"},"transform":[{"filter":{"field":"name","oneOf":["New York"]}}],"mark":{"type":"text","align":"right","baseline":"middle","dx":-14,"dy":-5,"fontSize":14.5,"color":"#111"},"encoding":{"text":{"field":"name"}}}
]},
{"width":677,"height":463,
"title":{"text":"B. Across Counties","offset":53},
"encoding":{
"x":{"field":"x","type":"quantitative","scale":{"domain":[34.62,55.37],"nice":false,"zero":false},"axis":{"values":[35,40,45,50,55],"grid":false,"labelPadding":8,"titlePadding":6},"title":"Mean Rank of Children of Permanent Residents at p=25"},
"y":{"field":"y","type":"quantitative","scale":{"domain":[-1.055,1.055],"nice":false,"zero":false},"axis":{"values":[-1,-0.5,0,0.5,1],"grid":true,"format":"~g","labelExpr":"replace(datum.label, '−', '-')","labelAngle":270,"labelAlign":"center","labelBaseline":"bottom","labelPadding":4,"titlePadding":7},"title":"Causal Effect of One Year of Exposure on Mean Rank"}},
"layer":[
{"data":{"name":"co_bg"},"mark":{"type":"circle","size":12,"color":"#b4b4b4","opacity":1}},
{"data":{"name":"co_line"},"mark":{"type":"line","color":"#1a476f","strokeWidth":2.6},"encoding":{}},
{"data":{"name":"co"},"mark":{"type":"errorbar","color":"#2f5f8a","thickness":1.2,"ticks":{"size":8},"rule":{"strokeDash":[7,4]}},"encoding":{"y":{"field":"lo","type":"quantitative","title":"Causal Effect of One Year of Exposure on Mean Rank"},"y2":{"field":"hi"}}},
{"data":{"name":"co"},"mark":{"type":"circle","size":85,"color":"#1a476f","opacity":1}},
{"data":{"name":"co"},"transform":[{"filter":{"field":"name","oneOf":["New York","Hudson","Queens","Middlesex","Nassau","Bergen"]}}],"mark":{"type":"text","align":"left","baseline":"middle","dx":9,"fontSize":14.5,"color":"#111"},"encoding":{"text":{"field":"name"}}},
{"data":{"name":"co"},"transform":[{"filter":{"field":"name","oneOf":["Essex"]}}],"mark":{"type":"text","align":"right","baseline":"middle","dx":-4,"dy":14,"fontSize":14.5,"color":"#111"},"encoding":{"text":{"field":"name"}}},
{"data":{"name":"co"},"transform":[{"filter":{"field":"name","oneOf":["Bronx"]}}],"mark":{"type":"text","align":"center","baseline":"middle","dx":9,"dy":20,"fontSize":14.5,"color":"#111"},"encoding":{"text":{"field":"name"}}},
{"data":{"name":"co"},"transform":[{"filter":{"field":"name","oneOf":["Kings"]}}],"mark":{"type":"text","align":"center","baseline":"middle","dx":-3,"dy":-20,"fontSize":14.5,"color":"#111"},"encoding":{"text":{"field":"name"}}},
{"data":{"name":"co"},"transform":[{"filter":{"field":"name","oneOf":["Union"]}}],"mark":{"type":"text","align":"center","baseline":"middle","dx":-5,"dy":20,"fontSize":14.5,"color":"#111"},"encoding":{"text":{"field":"name"}}},
{"data":{"name":"co"},"transform":[{"filter":{"field":"name","oneOf":["Westchester"]}}],"mark":{"type":"text","align":"left","baseline":"middle","dx":11,"dy":31,"fontSize":14.5,"color":"#111"},"encoding":{"text":{"field":"name"}}},
{"data":{"name":"co"},"transform":[{"filter":{"field":"name","oneOf":["Westchester"]}}],"mark":{"type":"text","align":"center","baseline":"middle","dx":8,"dy":13,"fontSize":12,"font":"DejaVu Sans","color":"#111","text":"↖"}},
{"data":{"name":"co"},"transform":[{"filter":{"field":"name","oneOf":["Suffolk"]}}],"mark":{"type":"text","align":"left","baseline":"middle","dx":7,"dy":-7,"fontSize":14.5,"color":"#111"},"encoding":{"text":{"field":"name"}}}
]}
]}
